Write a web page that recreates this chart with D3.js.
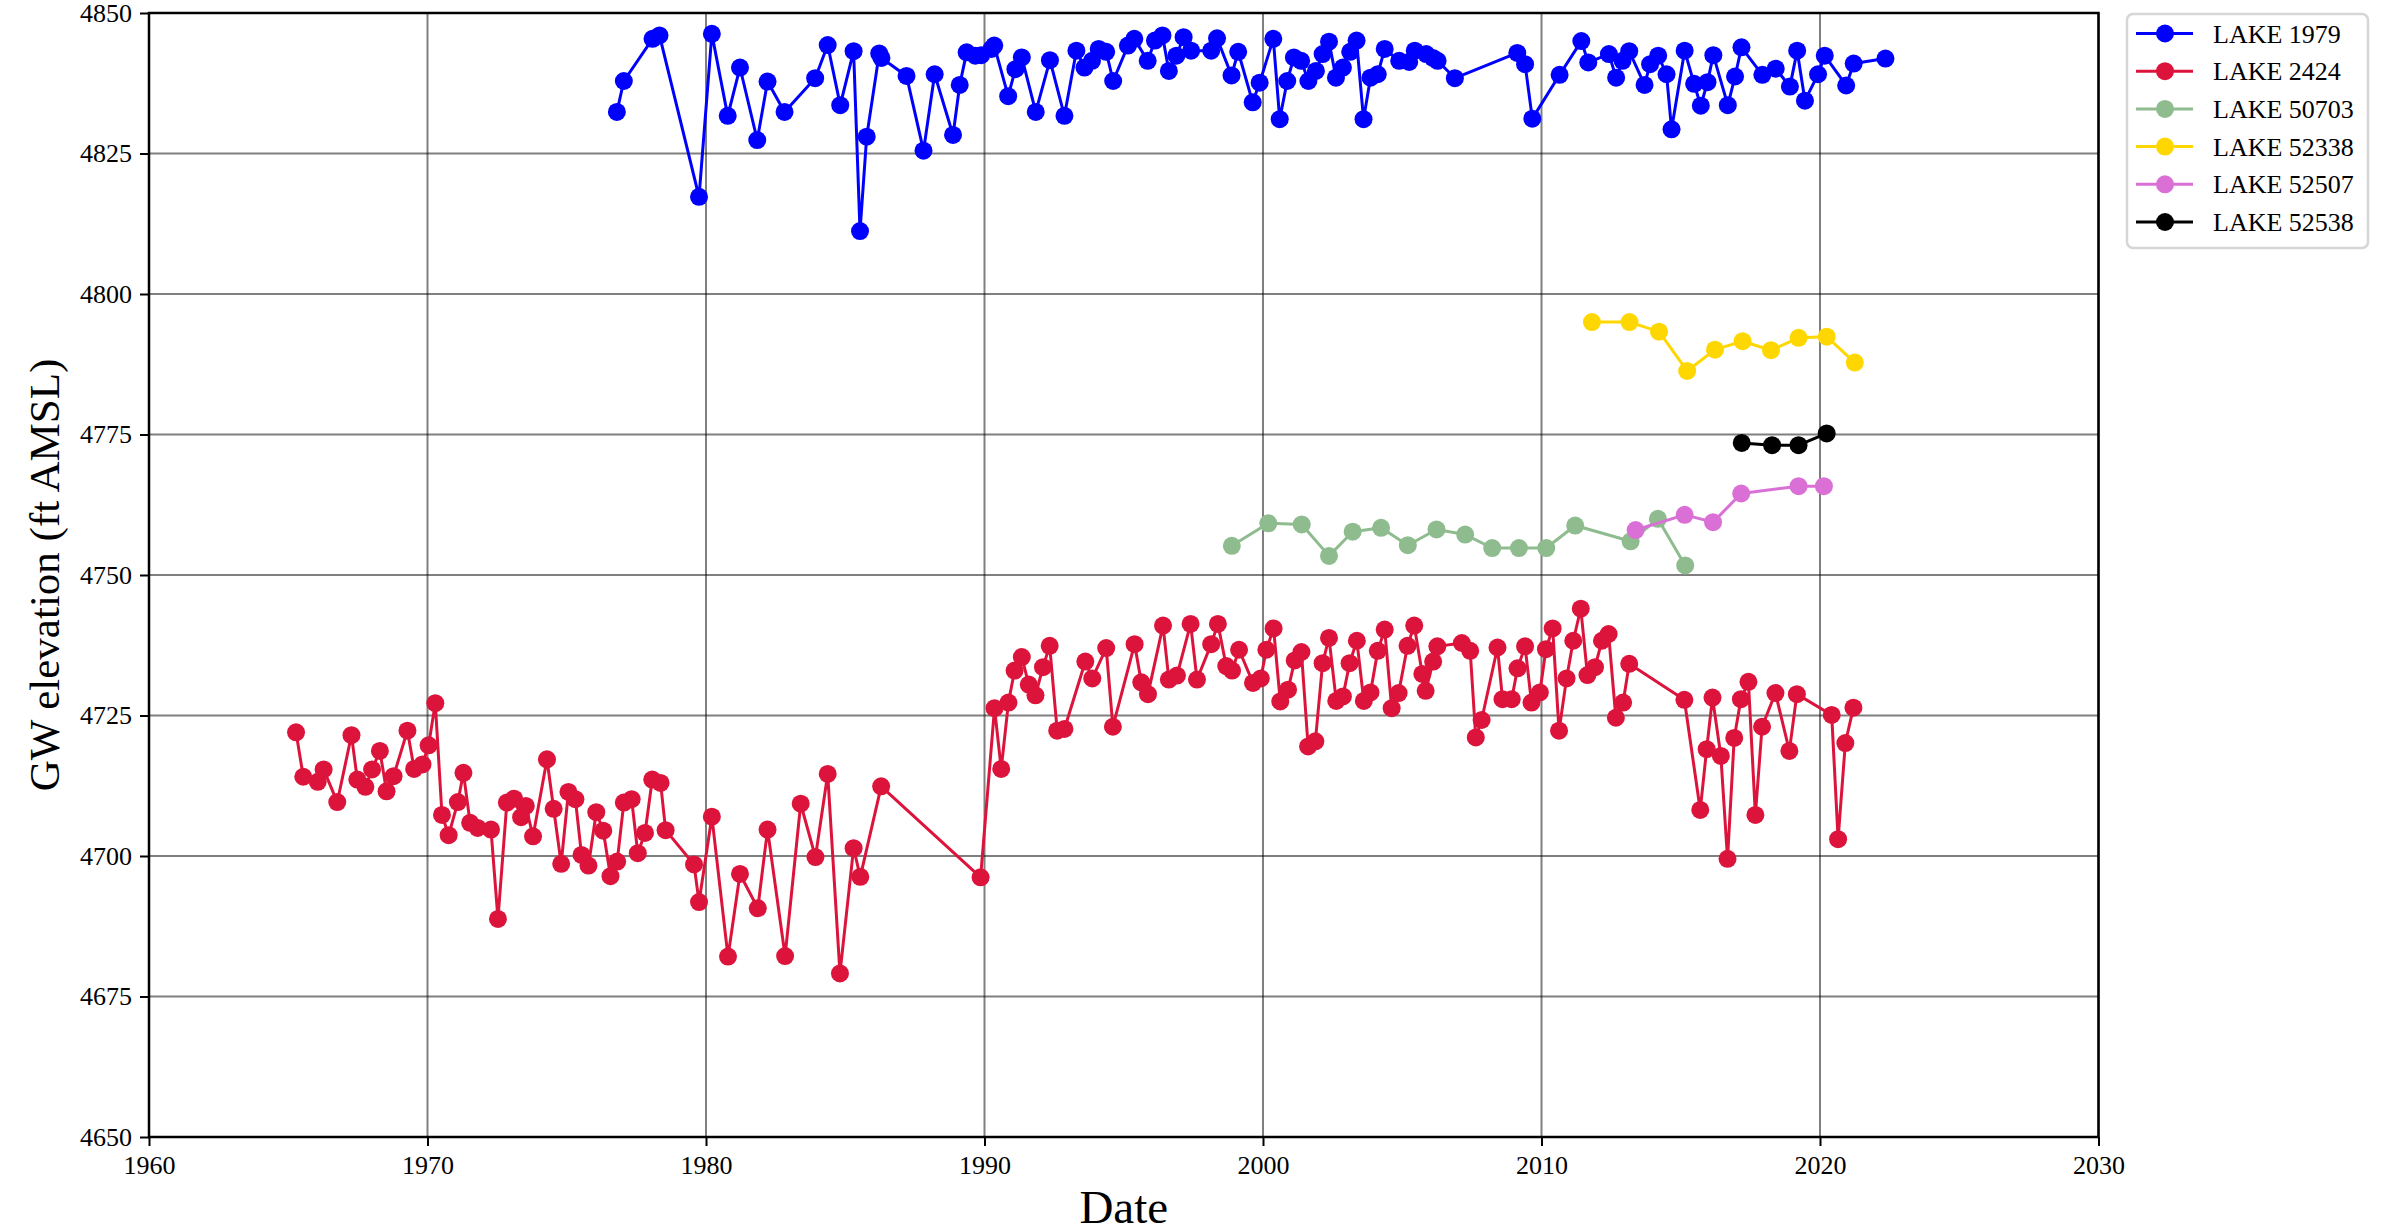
<!DOCTYPE html>
<html>
<head>
<meta charset="utf-8">
<script src="https://cdn.jsdelivr.net/npm/d3@7"></script>
<style>
	body { margin: 0; background: #fff; }
	svg { display: block; }
	text { font-family: "Liberation Serif", "Times New Roman", "DejaVu Serif", serif; }
</style>
</head>
<body>
<div id="graph"></div>
<script>
// series names + colours (legend order = draw order)
const series_names = ["LAKE 1979", "LAKE 2424", "LAKE 50703", "LAKE 52338", "LAKE 52507", "LAKE 52538"];
const series_colors = ["#0000ff", "#dc143c", "#8fbc8f", "#ffd700", "#da70d6", "#000000"];

// [decimal year, GW elevation ft AMSL]
const lake_1979 = [
	[1976.80, 4832.4], [1977.05, 4837.9], [1978.08, 4845.4], [1978.33, 4846.0], [1979.75, 4817.3],
	[1980.21, 4846.3], [1980.78, 4831.7], [1981.22, 4840.3], [1981.84, 4827.4], [1982.21, 4837.8],
	[1982.82, 4832.4], [1983.92, 4838.4], [1984.37, 4844.3], [1984.82, 4833.6], [1985.30, 4843.2],
	[1985.53, 4811.2], [1985.77, 4828.0], [1986.22, 4842.8], [1986.30, 4842.0], [1987.20, 4838.8],
	[1987.81, 4825.5], [1988.21, 4839.1], [1988.87, 4828.3], [1989.11, 4837.2], [1989.36, 4843.0],
	[1989.67, 4842.4], [1989.88, 4842.5], [1990.25, 4843.6], [1990.35, 4844.2], [1990.85, 4835.2],
	[1991.11, 4840.0], [1991.34, 4842.1], [1991.84, 4832.4], [1992.35, 4841.6], [1992.87, 4831.7],
	[1993.30, 4843.3], [1993.59, 4840.3], [1993.86, 4841.5], [1994.10, 4843.6], [1994.37, 4843.1],
	[1994.62, 4837.9], [1995.15, 4844.2], [1995.38, 4845.4], [1995.86, 4841.5], [1996.12, 4845.1],
	[1996.39, 4846.0], [1996.62, 4839.7], [1996.89, 4842.4], [1997.15, 4845.7], [1997.42, 4843.3],
	[1998.14, 4843.3], [1998.35, 4845.5], [1998.87, 4838.9], [1999.11, 4843.1], [1999.63, 4834.1],
	[1999.88, 4837.6], [2000.37, 4845.4], [2000.60, 4831.1], [2000.87, 4837.9], [2001.11, 4842.1],
	[2001.37, 4841.5], [2001.63, 4837.9], [2001.90, 4839.7], [2002.14, 4842.7], [2002.37, 4844.9],
	[2002.62, 4838.5], [2002.87, 4840.3], [2003.13, 4843.1], [2003.36, 4845.1], [2003.61, 4831.1],
	[2003.86, 4838.5], [2004.12, 4839.1], [2004.37, 4843.6], [2004.89, 4841.5], [2005.25, 4841.3],
	[2005.45, 4843.3], [2005.86, 4842.7], [2006.10, 4842.0], [2006.27, 4841.5], [2006.89, 4838.4],
	[2009.13, 4842.9], [2009.41, 4840.9], [2009.67, 4831.2], [2010.65, 4839.0], [2011.43, 4845.0],
	[2011.68, 4841.2], [2012.42, 4842.7], [2012.68, 4838.5], [2012.91, 4841.5], [2013.15, 4843.2],
	[2013.70, 4837.2], [2013.90, 4840.9], [2014.19, 4842.4], [2014.49, 4839.1], [2014.67, 4829.3],
	[2015.14, 4843.3], [2015.48, 4837.4], [2015.72, 4833.5], [2015.96, 4837.7], [2016.17, 4842.5],
	[2016.69, 4833.6], [2016.95, 4838.7], [2017.18, 4843.9], [2017.93, 4839.0], [2018.41, 4840.1],
	[2018.92, 4836.9], [2019.18, 4843.3], [2019.46, 4834.4], [2019.93, 4839.1], [2020.17, 4842.4],
	[2020.94, 4837.1], [2021.21, 4841.0], [2022.35, 4841.9]
];

const lake_2424 = [
	[1965.28, 4722.0], [1965.54, 4714.1], [1966.06, 4713.2], [1966.27, 4715.4], [1966.76, 4709.6],
	[1967.27, 4721.5], [1967.48, 4713.6], [1967.77, 4712.3], [1968.01, 4715.4], [1968.29, 4718.7],
	[1968.53, 4711.5], [1968.78, 4714.2], [1969.28, 4722.3], [1969.52, 4715.5], [1969.82, 4716.3],
	[1970.04, 4719.7], [1970.28, 4727.2], [1970.52, 4707.3], [1970.76, 4703.7], [1971.09, 4709.6],
	[1971.29, 4714.8], [1971.53, 4705.9], [1971.80, 4705.0], [1972.28, 4704.7], [1972.53, 4688.8],
	[1972.85, 4709.5], [1973.11, 4710.2], [1973.36, 4706.9], [1973.53, 4708.9], [1973.79, 4703.5],
	[1974.29, 4717.2], [1974.53, 4708.4], [1974.80, 4698.6], [1975.06, 4711.4], [1975.31, 4710.1],
	[1975.53, 4700.2], [1975.78, 4698.3], [1976.06, 4707.8], [1976.31, 4704.5], [1976.57, 4696.4],
	[1976.81, 4699.0], [1977.05, 4709.5], [1977.33, 4710.1], [1977.55, 4700.5], [1977.81, 4704.1],
	[1978.07, 4713.6], [1978.37, 4713.0], [1978.55, 4704.6], [1979.57, 4698.5], [1979.75, 4691.8],
	[1980.21, 4707.0], [1980.79, 4682.1], [1981.22, 4696.8], [1981.86, 4690.7], [1982.21, 4704.7],
	[1982.84, 4682.2], [1983.40, 4709.3], [1983.93, 4699.8], [1984.37, 4714.6], [1984.81, 4679.1],
	[1985.30, 4701.4], [1985.54, 4696.3], [1986.29, 4712.4], [1989.86, 4696.2], [1990.36, 4726.3],
	[1990.60, 4715.5], [1990.86, 4727.3], [1991.08, 4733.0], [1991.34, 4735.4], [1991.59, 4730.5],
	[1991.83, 4728.6], [1992.10, 4733.6], [1992.34, 4737.4], [1992.61, 4722.3], [1992.87, 4722.6],
	[1993.62, 4734.6], [1993.87, 4731.6], [1994.37, 4737.0], [1994.61, 4723.0], [1995.39, 4737.7],
	[1995.63, 4730.9], [1995.87, 4728.8], [1996.41, 4741.0], [1996.62, 4731.4], [1996.91, 4732.1],
	[1997.40, 4741.3], [1997.63, 4731.4], [1998.14, 4737.7], [1998.38, 4741.3], [1998.68, 4733.8],
	[1998.89, 4733.0], [1999.14, 4736.7], [1999.64, 4730.8], [1999.92, 4731.6], [2000.12, 4736.7],
	[2000.38, 4740.5], [2000.62, 4727.5], [2000.90, 4729.6], [2001.14, 4734.8], [2001.38, 4736.3],
	[2001.62, 4719.5], [2001.88, 4720.4], [2002.14, 4734.3], [2002.37, 4738.8], [2002.63, 4727.6],
	[2002.87, 4728.4], [2003.11, 4734.3], [2003.37, 4738.3], [2003.62, 4727.6], [2003.86, 4729.1],
	[2004.12, 4736.5], [2004.37, 4740.3], [2004.62, 4726.3], [2004.87, 4729.0], [2005.19, 4737.4],
	[2005.43, 4741.0], [2005.72, 4732.4], [2005.84, 4729.4], [2006.11, 4734.6], [2006.26, 4737.3],
	[2007.14, 4737.9], [2007.44, 4736.5], [2007.64, 4721.1], [2007.85, 4724.2], [2008.42, 4737.1],
	[2008.60, 4727.9], [2008.93, 4727.9], [2009.14, 4733.4], [2009.41, 4737.3], [2009.64, 4727.3],
	[2009.94, 4729.1], [2010.16, 4736.8], [2010.40, 4740.5], [2010.63, 4722.3], [2010.90, 4731.6],
	[2011.14, 4738.3], [2011.41, 4744.0], [2011.65, 4732.2], [2011.92, 4733.6], [2012.17, 4738.3],
	[2012.41, 4739.5], [2012.67, 4724.6], [2012.93, 4727.3], [2013.15, 4734.2], [2015.13, 4727.8],
	[2015.70, 4708.2], [2015.93, 4719.0], [2016.14, 4728.2], [2016.44, 4717.8], [2016.68, 4699.5],
	[2016.92, 4721.0], [2017.16, 4727.9], [2017.43, 4731.0], [2017.68, 4707.3], [2017.92, 4723.0],
	[2018.40, 4729.0], [2018.90, 4718.7], [2019.17, 4728.8], [2020.42, 4725.1], [2020.65, 4703.0],
	[2020.91, 4720.1], [2021.20, 4726.4]
];

const lake_50703 = [
	[1998.88, 4755.2], [2000.19, 4759.2], [2001.39, 4759.0], [2002.37, 4753.4], [2003.22, 4757.7],
	[2004.24, 4758.4], [2005.20, 4755.3], [2006.23, 4758.1], [2007.26, 4757.2], [2008.23, 4754.8],
	[2009.19, 4754.8], [2010.17, 4754.8], [2011.21, 4758.8], [2013.20, 4756.0], [2014.18, 4760.0],
	[2015.16, 4751.7]
];

const lake_52338 = [
	[2011.81, 4795.0], [2013.16, 4795.0], [2014.22, 4793.3], [2015.23, 4786.3], [2016.23, 4790.1],
	[2017.22, 4791.6], [2018.24, 4790.0], [2019.23, 4792.2], [2020.24, 4792.4], [2021.25, 4787.8]
];

const lake_52507 = [
	[2013.38, 4758.0], [2015.14, 4760.7], [2016.16, 4759.4], [2017.17, 4764.5], [2019.23, 4765.8],
	[2020.14, 4765.8]
];

const lake_52538 = [
	[2017.19, 4773.5], [2018.28, 4773.1], [2019.23, 4773.1], [2020.24, 4775.2]
];

const x_ticks = [1960, 1970, 1980, 1990, 2000, 2010, 2020, 2030];
const y_ticks = [4650, 4675, 4700, 4725, 4750, 4775, 4800, 4825, 4850];

const params = {
		width: 2381,
		height: 1232,
		left: 149,
		right: 2098.5,
		top: 13,
		bottom: 1137,
		line_width: 3,
		marker_radius: 9,
		tick_font: 26,
		xlabel_font: 47,
		ylabel_font: 43
	},
	all_series = [lake_1979, lake_2424, lake_50703, lake_52338, lake_52507, lake_52538];

const x = d3.scaleLinear().domain([1960, 2030]).range([params.left, params.right]),
	y = d3.scaleLinear().domain([4650, 4850]).range([params.bottom, params.top]);

const svg = d3.select('#graph').append('svg')
	.attr('width', params.width)
	.attr('height', params.height);

// grid first, so everything sits on top of it
const grid = svg.append('g').attr('stroke', '#000').attr('stroke-opacity', 0.5).attr('stroke-width', 2);
grid.selectAll('line.gx').data(x_ticks).join('line')
	.attr('x1', d => x(d)).attr('x2', d => x(d))
	.attr('y1', params.top).attr('y2', params.bottom);
grid.selectAll('line.gy').data(y_ticks).join('line')
	.attr('class', 'gy')
	.attr('x1', params.left).attr('x2', params.right)
	.attr('y1', d => y(d)).attr('y2', d => y(d));

// series: line + round markers
const line = d3.line().x(d => x(d[0])).y(d => y(d[1]));
all_series.forEach((data, i) => {
	const g = svg.append('g').attr('id', `s${i}`);
	g.append('path')
		.datum(data)
		.attr('d', line)
		.attr('fill', 'none')
		.attr('stroke', series_colors[i])
		.attr('stroke-width', params.line_width)
		.attr('stroke-linejoin', 'round');
	g.selectAll('circle').data(data).join('circle')
		.attr('cx', d => x(d[0]))
		.attr('cy', d => y(d[1]))
		.attr('r', params.marker_radius)
		.attr('fill', series_colors[i]);
});

// axes
const x_axis = svg.append('g')
	.attr('transform', `translate(0,${params.bottom})`)
	.call(d3.axisBottom(x).tickValues(x_ticks).tickFormat(d3.format('d')).tickSize(9).tickPadding(10).tickSizeOuter(0));
const y_axis = svg.append('g')
	.attr('transform', `translate(${params.left},0)`)
	.call(d3.axisLeft(y).tickValues(y_ticks).tickFormat(d3.format('d')).tickSize(9).tickPadding(8).tickSizeOuter(0));
[x_axis, y_axis].forEach(a => {
	a.select('.domain').remove();
	a.selectAll('.tick line').attr('stroke', '#000').attr('stroke-width', 2);
	a.selectAll('.tick text')
		.attr('fill', '#000')
		.style('font-size', params.tick_font + 'px');
});

// spines
svg.append('rect')
	.attr('x', params.left).attr('y', params.top)
	.attr('width', params.right - params.left)
	.attr('height', params.bottom - params.top)
	.attr('fill', 'none')
	.attr('stroke', '#000')
	.attr('stroke-width', 2.5);

// axis titles
svg.append('text')
	.attr('x', (params.left + params.right) / 2)
	.attr('y', 1223)
	.attr('text-anchor', 'middle')
	.style('font-size', params.xlabel_font + 'px')
	.text('Date');
svg.append('text')
	.attr('transform', `translate(59,${(params.top + params.bottom) / 2}) rotate(-90)`)
	.attr('text-anchor', 'middle')
	.style('font-size', params.ylabel_font + 'px')
	.text('GW elevation (ft AMSL)');

// legend
const legend = svg.append('g').attr('transform', 'translate(2127,14)');
legend.append('rect')
	.attr('width', 241).attr('height', 234)
	.attr('rx', 6)
	.attr('fill', '#fff')
	.attr('stroke', '#d6d6d6')
	.attr('stroke-width', 2.5);
const rows = legend.selectAll('g.row').data(series_names).join('g')
	.attr('class', 'row')
	.attr('transform', (d, i) => `translate(0,${19.5 + i * 37.7})`);
rows.append('line')
	.attr('x1', 9).attr('x2', 66)
	.attr('stroke', (d, i) => series_colors[i])
	.attr('stroke-width', params.line_width);
rows.append('circle')
	.attr('cx', 38).attr('r', params.marker_radius)
	.attr('fill', (d, i) => series_colors[i]);
rows.append('text')
	.attr('x', 86).attr('y', 9)
	.style('font-size', '26px')
	.text(d => d);
</script>
</body>
</html>
